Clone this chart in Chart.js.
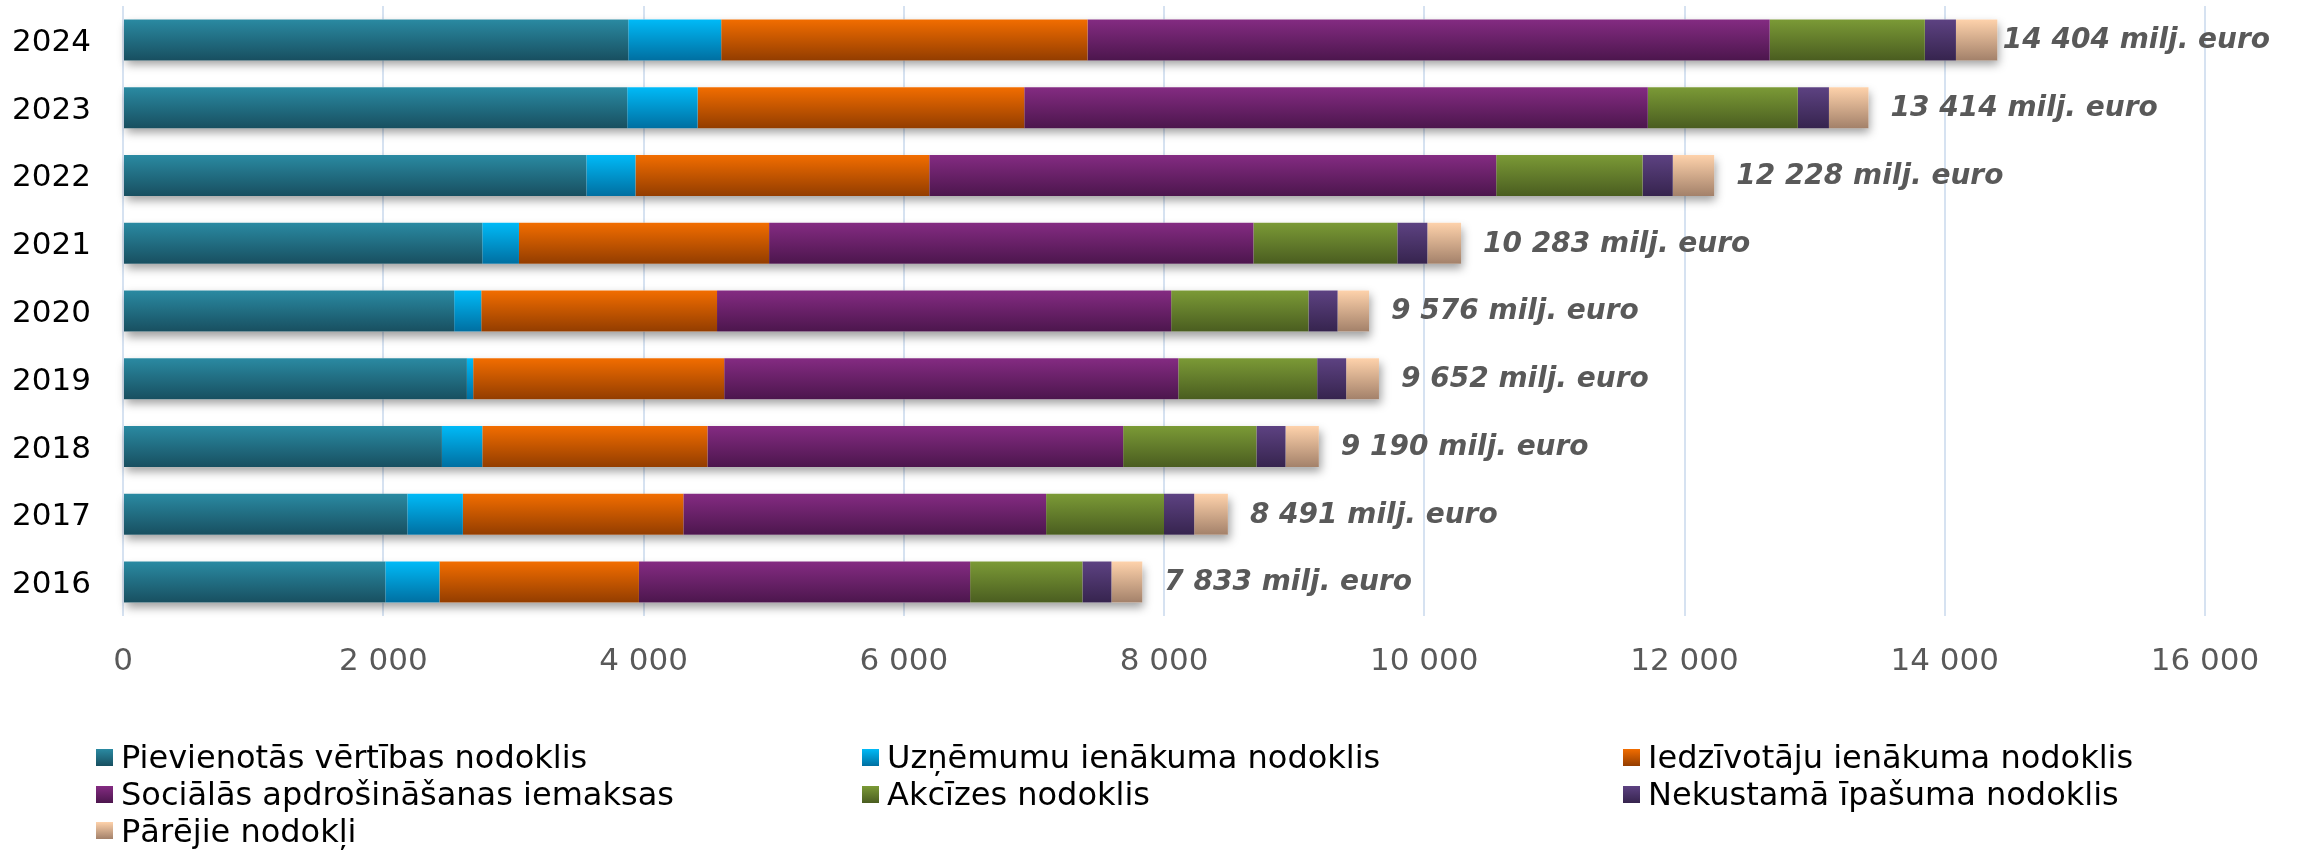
<!DOCTYPE html>
<html>
<head>
<meta charset="utf-8">
<script src="https://cdn.jsdelivr.net/npm/chart.js@4.4.1/dist/chart.umd.min.js"></script>
<style>
  html, body { margin: 0; padding: 0; background: #fff; }
  #wrap { position: relative; width: 2300px; height: 851px; }
  #legend {
    position: absolute; left: 96px; top: 739px;
    display: grid; grid-template-columns: 766px 761px auto;
    grid-auto-rows: 36.7px;
    font: 32px "DejaVu Sans", Verdana, sans-serif; color: #000;
  }
  .lg-item { display: flex; align-items: center; white-space: nowrap; }
  .lg-box { width: 17px; height: 17px; margin-right: 8px; flex: none; }
</style>
</head>
<body>
<div id="wrap">
  <canvas id="chart" width="2300" height="851"></canvas>
  <div id="legend"></div>
</div>
<script>
// ===========================
// Data (milj. euro)
// ===========================
const YEARS = ['2024', '2023', '2022', '2021', '2020', '2019', '2018', '2017', '2016'];

const PVN   = [3883, 3875, 3561, 2761, 2545, 2643, 2451, 2185, 2016];
const UIN   = [714, 541, 377, 282, 208, 48, 310, 427, 416];
const IIN   = [2815, 2510, 2258, 1922, 1812, 1929, 1730, 1694, 1533];
const SAI   = [5243, 4792, 4357, 3722, 3490, 3490, 3195, 2788, 2545];
const AKC   = [1192, 1153, 1125, 1106, 1055, 1067, 1024, 906, 863];
const NIN   = [239, 239, 232, 231, 224, 223, 224, 232, 223];
const OTHER = [318, 304, 318, 259, 242, 252, 256, 259, 237];

const TOTALS = [14404, 13414, 12228, 10283, 9576, 9652, 9190, 8491, 7833];

const X_TICKS = [0, 2000, 4000, 6000, 8000, 10000, 12000, 14000, 16000];

const SERIES_NAMES = [
  'Pievienotās vērtības nodoklis',
  'Uzņēmumu ienākuma nodoklis',
  'Iedzīvotāju ienākuma nodoklis',
  'Sociālās apdrošināšanas iemaksas',
  'Akcīzes nodoklis',
  'Nekustamā īpašuma nodoklis',
  'Pārējie nodokļi'
];
const SERIES_DATA = [PVN, UIN, IIN, SAI, AKC, NIN, OTHER];

// gradient colours: [top, bottom]
const SERIES_COLORS = [
  ['#2a8aa2', '#184f60'],
  ['#00baf7', '#006fa1'],
  ['#f26d00', '#933d00'],
  ['#842b82', '#4c164d'],
  ['#7b9a36', '#4a5d20'],
  ['#5d4282', '#36244e'],
  ['#fed2ab', '#a3816a']
];

// ===========================
// Layout constants
// ===========================
const FONT = '"DejaVu Sans", Verdana, sans-serif';
const BAR_PCT = 0.605;
const AREA_LEFT = 123;
const AREA_TOP = 6;
const AREA_BOTTOM = 616;
const AREA_RIGHT = 2205;
const W = 2300, H = 851;

function fmt(n) {
  return Number(n).toLocaleString('en-US').replace(/,/g, ' ');
}

function barGradient(c, idx) {
  const chart = c.chart;
  const area = chart.chartArea;
  const [top, bottom] = SERIES_COLORS[idx];
  if (!area || !chart.scales.y) return top;
  const step = (area.bottom - area.top) / YEARS.length;
  const h = step * BAR_PCT;
  const yc = chart.scales.y.getPixelForValue(c.dataIndex);
  const g = chart.ctx.createLinearGradient(0, yc - h / 2, 0, yc + h / 2);
  g.addColorStop(0, top);
  g.addColorStop(1, bottom);
  return g;
}

// ===========================
// Plugins
// ===========================
// soft drop shadow under each whole stacked bar
const shadowPlugin = {
  id: 'barShadow',
  beforeDatasetsDraw(chart) {
    const ctx = chart.ctx;
    const first = chart.getDatasetMeta(0).data;
    const last = chart.getDatasetMeta(SERIES_DATA.length - 1).data;
    ctx.save();
    ctx.shadowColor = 'rgba(0,0,0,0.38)';
    ctx.shadowBlur = 9;
    ctx.shadowOffsetX = 2;
    ctx.shadowOffsetY = 5;
    ctx.fillStyle = '#ffffff';
    first.forEach((el, i) => {
      const l = first[i].base;
      const r = last[i].x;
      const h = el.height;
      ctx.fillRect(l, el.y - h / 2, r - l, h);
    });
    ctx.restore();
  }
};

// total labels at the end of each bar
const totalsPlugin = {
  id: 'totals',
  afterDatasetsDraw(chart) {
    const ctx = chart.ctx;
    const last = chart.getDatasetMeta(SERIES_DATA.length - 1).data;
    ctx.save();
    ctx.font = 'italic bold 28px ' + FONT;
    ctx.fillStyle = '#595959';
    ctx.textBaseline = 'middle';
    ctx.textAlign = 'left';
    last.forEach((el, i) => {
      const txt = fmt(TOTALS[i]) + ' milj. euro';
      const tw = ctx.measureText(txt).width;
      const x = Math.min(el.x + 22, chart.width - 30 - tw);
      ctx.fillText(txt, x, el.y + 1);
    });
    ctx.restore();
  }
};

// ===========================
// Chart
// ===========================
const datasets = SERIES_NAMES.map((name, idx) => ({
  label: name,
  data: SERIES_DATA[idx],
  backgroundColor: (c) => barGradient(c, idx),
  borderWidth: 0,
  barPercentage: BAR_PCT,
  categoryPercentage: 1
}));

const chart = new Chart(document.getElementById('chart'), {
  type: 'bar',
  data: { labels: YEARS, datasets },
  options: {
    indexAxis: 'y',
    responsive: false,
    animation: false,
    layout: { padding: { top: AREA_TOP, right: W - AREA_RIGHT, bottom: 0, left: 0 } },
    plugins: { legend: { display: false }, tooltip: { enabled: false } },
    scales: {
      x: {
        stacked: true,
        min: 0, max: 16000,
        afterBuildTicks(scale) { scale.ticks = X_TICKS.map(v => ({ value: v })); },
        afterFit(scale) { scale.height = H - AREA_BOTTOM; },
        grid: { color: '#d6e2f1', lineWidth: 2, drawTicks: false },
        border: { display: false },
        ticks: {
          color: '#595959', padding: 27,
          font: { family: FONT, size: 31 },
          callback: (v) => fmt(v)
        }
      },
      y: {
        stacked: true,
        afterFit(scale) {
          scale.width = AREA_LEFT;
          scale.paddingTop = 0;
          scale.paddingBottom = 0;
        },
        grid: { display: false, drawTicks: false },
        border: { display: false },
        ticks: { color: '#000', padding: 32, labelOffset: 3, font: { family: FONT, size: 31 } }
      }
    }
  },
  plugins: [shadowPlugin, totalsPlugin]
});

// ===========================
// Legend (HTML, 3 columns)
// ===========================
const legendEl = document.getElementById('legend');
chart.data.datasets.forEach((ds, idx) => {
  const [top, bottom] = SERIES_COLORS[idx];
  const item = document.createElement('div');
  item.className = 'lg-item';
  item.innerHTML = `<span class="lg-box" style="background:linear-gradient(${top},${bottom})"></span><span>${ds.label}</span>`;
  legendEl.appendChild(item);
});
</script>
</body>
</html>
